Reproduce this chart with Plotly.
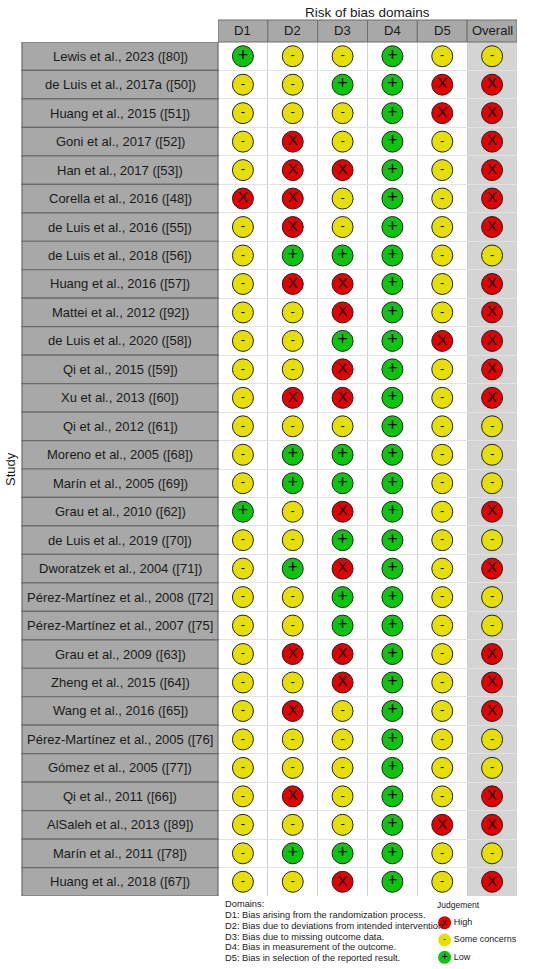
import plotly.graph_objects as go

# Risk of bias judgements per study (L = low, S = some concerns, H = high)
studies = [
    "Lewis et al., 2023 ([80])", "de Luis et al., 2017a ([50])", "Huang et al., 2015 ([51])",
    "Goni et al., 2017 ([52])", "Han et al., 2017 ([53])", "Corella et al., 2016 ([48])",
    "de Luis et al., 2016 ([55])", "de Luis et al., 2018 ([56])", "Huang et al., 2016 ([57])",
    "Mattei et al., 2012 ([92])", "de Luis et al., 2020 ([58])", "Qi et al., 2015 ([59])",
    "Xu et al., 2013 ([60])", "Qi et al., 2012 ([61])", "Moreno et al., 2005 ([68])",
    "Marín et al., 2005 ([69])", "Grau et al., 2010 ([62])", "de Luis et al., 2019 ([70])",
    "Dworatzek et al., 2004 ([71])", "Pérez-Martínez et al., 2008 ([72]",
    "Pérez-Martínez et al., 2007 ([75]", "Grau et al., 2009 ([63])", "Zheng et al., 2015 ([64])",
    "Wang et al., 2016 ([65])", "Pérez-Martínez et al., 2005 ([76]", "Gómez et al., 2005 ([77])",
    "Qi et al., 2011 ([66])", "AlSaleh et al., 2013 ([89])", "Marín et al., 2011 ([78])",
    "Huang et al., 2018 ([67])",
]
d1 = list("LSSSSHSSSSSSSSSSLSSSSSSSSSSSSS")
d2 = list("SSSHHHHLHSSSHSLLSSLSSHSHSSHSLS")
d3 = list("SLSSHSSLHHLHHSLLHLHLLHHSSSSSLH")
d4 = list("LLLLLLLLLLLLLLLLLLLLLLLLLLLLLL")
d5 = list("SHHSSSSSSSHSSSSSSSSSSSSSSSSHSS")
overall = list("SHHHHHHSHHHHHSSSHSHSSHHHSSHHSH")

domains = ["D1", "D2", "D3", "D4", "D5", "Overall"]
domain_desc = [
    "D1: Bias arising from the randomization process.",
    "D2: Bias due to deviations from intended intervention.",
    "D3: Bias due to missing outcome data.",
    "D4: Bias in measurement of the outcome.",
    "D5: Bias in selection of the reported result.",
]
judgements = ["High", "Some concerns", "Low"]

colours = {"H": "#E30000", "S": "#E6DF06", "L": "#0FC40F"}
symbols = {"H": "X", "S": "-", "L": "+"}
sym_size = {"H": 15, "S": 13, "L": 18}
legend_codes = ["H", "S", "L"]

W, H = 550, 969
px = lambda v: v / W
py = lambda v: 1 - v / H

fig = go.Figure()

# traffic light points
xs, ys, cs, ts, ss = [], [], [], [], []
for dom, col in zip(domains, [d1, d2, d3, d4, d5, overall]):
    for s, j in zip(studies, col):
        xs.append(dom)
        ys.append(s)
        cs.append(colours[j])
        ts.append(symbols[j])
        ss.append(sym_size[j])

fig.add_trace(go.Scatter(
    x=xs, y=ys, mode="markers+text", text=ts, textposition="middle center",
    textfont=dict(size=ss, color="black", family="Liberation Sans"),
    marker=dict(size=21, color=cs, line=dict(color="#222", width=1)),
    hoverinfo="skip", showlegend=False,
))

# legend markers
fig.add_trace(go.Scatter(
    x=[0] * 3, y=judgements, xaxis="x2", yaxis="y2", mode="markers+text",
    text=judgements, textposition="middle right",
    textfont=dict(size=9, color="#222", family="Liberation Sans"),
    marker=dict(size=13, color=[colours[c] for c in legend_codes], line=dict(width=0)),
    hoverinfo="skip", showlegend=False,
))
fig.add_trace(go.Scatter(
    x=[0] * 3, y=judgements, xaxis="x2", yaxis="y2", mode="text",
    text=[symbols[c].lower() if c == "H" else symbols[c] for c in legend_codes],
    textposition="middle center", textfont=dict(size=[9, 9, 11], color="black"),
    hoverinfo="skip", showlegend=False,
))

shapes = []
# overall column background
shapes.append(dict(type="rect", xref="x", yref="y domain", x0=4.5, x1=5.5, y0=0, y1=1,
                   fillcolor="#D4D4D4", line=dict(width=0), layer="below"))
# header cells
for i, dom in enumerate(domains):
    shapes.append(dict(type="rect", xref="x", yref="paper", x0=i - 0.5, x1=i + 0.5,
                       y0=py(42), y1=py(20), fillcolor="#A8A8A8",
                       line=dict(color="#6E6E6E", width=1)))
# study strips
for i, s in enumerate(studies):
    shapes.append(dict(type="rect", xref="paper", yref="y", x0=px(22), x1=px(218),
                       y0=i - 0.5, y1=i + 0.5, fillcolor="#A8A8A8",
                       line=dict(color="#6A6A6A", width=1.2)))

C = dict(xanchor="center", yanchor="middle", showarrow=False)
L = dict(xanchor="left", yanchor="middle", showarrow=False)
annotations = []
annotations.append(dict(text="Risk of bias domains", xref="paper", yref="paper",
                        x=px(367.5), y=py(12), font=dict(size=13.5, color="#1a1a1a"), **C))
for dom in domains:
    annotations.append(dict(text=dom, xref="x", yref="paper", x=dom, y=py(31),
                            font=dict(size=13, color="#1a1a1a"), **C))
for s in studies:
    annotations.append(dict(text=s, xref="paper", yref="y", x=px(120), y=s,
                            font=dict(size=13, color="#1a1a1a"), **C))
annotations.append(dict(text="Study", xref="paper", yref="paper", x=px(11), y=py(469),
                        textangle=-90, font=dict(size=13, color="#1a1a1a"), **C))
annotations.append(dict(text="Domains:", xref="paper", yref="paper", x=px(223), y=py(904),
                        font=dict(size=9.3, color="#222"), **L))
for k, d in enumerate(domain_desc):
    annotations.append(dict(text=d, xref="paper", yref="paper", x=px(223), y=py(915 + 10.8 * k),
                            font=dict(size=9.3, color="#222"), **L))
annotations.append(dict(text="Judgement", xref="paper", yref="paper", x=px(458), y=py(905),
                        font=dict(size=8.5, color="#222"), **C))

fig.update_layout(
    width=W, height=H, margin=dict(l=0, r=0, t=0, b=0),
    paper_bgcolor="white", plot_bgcolor="white",
    font=dict(family="Liberation Sans, Arial, sans-serif"),
    shapes=shapes, annotations=annotations,
    xaxis=dict(domain=[px(218), px(517)], range=[-0.5, 5.5], type="category",
               categoryorder="array", categoryarray=domains, tickson="boundaries",
               showgrid=True, gridcolor="#D0D0D0", gridwidth=1, showticklabels=False,
               ticks="", zeroline=False, fixedrange=True),
    yaxis=dict(domain=[py(896), py(42)], range=[len(studies) - 0.5, -0.5], type="category",
               categoryorder="array", categoryarray=studies, tickson="boundaries",
               showgrid=True, gridcolor="#E2E2E2", gridwidth=1, showticklabels=False,
               ticks="", zeroline=False, fixedrange=True),
    xaxis2=dict(domain=[px(438), px(548)], range=[-0.6, 9.4], anchor="y2", visible=False),
    yaxis2=dict(domain=[py(966), py(914)], range=[2.5, -0.5], type="category",
                categoryorder="array", categoryarray=judgements, anchor="x2", visible=False),
)

fig.write_html("out.html", config={"displayModeBar": False},
               post_script="document.body.style.margin='0';")
